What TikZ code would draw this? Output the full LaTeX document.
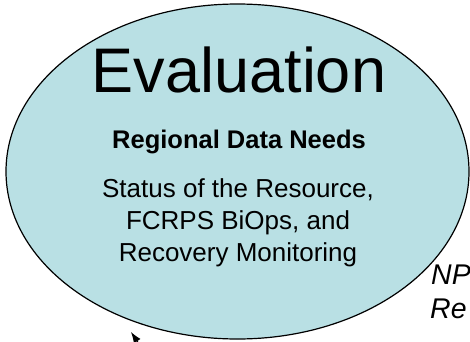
\documentclass[tikz,border=0pt]{standalone}
\usepackage{fontspec}
\usetikzlibrary{arrows.meta}
\setmainfont{Liberation Sans}
\definecolor{evalblue}{RGB}{185,224,228}
\tikzset{
  lbl/.style={inner sep=0pt,anchor=base},
  body/.style={lbl,font=\fontsize{26}{32}\selectfont},
  side/.style={lbl,anchor=base west,font=\fontsize{28.5}{34}\selectfont\itshape}
}
\begin{document}
\begin{tikzpicture}[x=1pt,y=1pt]
\useasboundingbox(0,0)rectangle(470,341);
\draw[fill=evalblue,line width=1.2pt](237.5,169.5)ellipse(231.5 and 167.5);
\node[lbl,font=\fontsize{63}{75}\selectfont](title)at(239,249){Evaluation};
\node[body,font=\fontsize{25.5}{32}\selectfont\bfseries](needs)at(239,193){Regional Data Needs};
\node[body](s1)at(238,144){Status of the Resource,};
\node[body](s2)at(238,112){FCRPS BiOps, and};
\node[body](s3)at(238,80){Recovery Monitoring};
\node[side](np)at(431,57){NP};
\node[side](re)at(430,23){Re};
\coordinate(tail)at(152,-22);
\coordinate(tip)at(131,9);
\draw[-{Latex[length=11pt,width=8pt]},line width=1pt](tail)--(tip);
\end{tikzpicture}
\end{document}
